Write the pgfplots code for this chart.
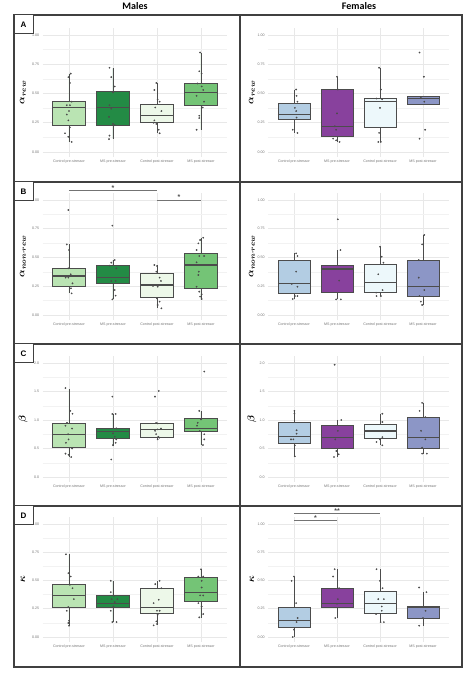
\documentclass[border=0pt]{standalone}
\usepackage{amsmath}
\usepackage{fontspec}
\setmainfont{Liberation Sans}
\newfontfamily\carlito{Carlito}
\usepackage{pgfplots}
\pgfplotsset{compat=1.18}
\usepgfplotslibrary{statistics}

\definecolor{g1}{HTML}{BAE4B3}
\definecolor{g2}{HTML}{238B45}
\definecolor{g3}{HTML}{EDF8E9}
\definecolor{g4}{HTML}{74C476}
\definecolor{p1}{HTML}{B3CDE3}
\definecolor{p2}{HTML}{88419D}
\definecolor{p3}{HTML}{EDF8FB}
\definecolor{p4}{HTML}{8C96C6}

\newcommand{\bx}[7]{\addplot[boxplot prepared={draw direction=y, draw position=#1, lower whisker=#2, lower quartile=#3, median=#4, upper quartile=#5, upper whisker=#6, box extend=0.75, whisker extend=0}, fill=#7, draw=black!70, line width=0.5pt] coordinates {};}

\pgfplotsset{
  pan/.style={
    scale only axis, anchor=south west, clip=false,
    xmin=0.4, xmax=4.6,
    xtick={1,2,3,4},
    xticklabels={Control pre-stressor,MS pre-stressor,Control post-stressor,MS post-stressor},
    axis line style={draw=none},
    major tick length=0pt, minor tick length=0pt,
    xmajorgrids, ymajorgrids, yminorgrids, minor y tick num=1,
    major grid style={draw=black!9, line width=0.5pt},
    minor grid style={draw=black!5, line width=0.3pt},
    tick label style={font=\fontsize{3.6}{4.3}\selectfont, text=black!55},
    /pgf/number format/assume math mode=true,
    yticklabel style={/pgf/number format/.cd, fixed, fixed zerofill, precision=2},
    boxplot/every median/.style={line width=1.1pt},
  },
  lc/.style={pan, width=184.8pt},
  rc/.style={pan, width=180.6pt},
  unitrow/.style={ymin=-0.04, ymax=1.06, ytick={0,0.25,0.5,0.75,1}},
  betarow/.style={ymin=-0.08, ymax=2.12, ytick={0,0.5,1,1.5,2},
    yticklabel style={/pgf/number format/.cd, fixed, fixed zerofill, precision=1}},
  pts/.style={only marks, mark=*, mark size=0.65pt, black!70},
}
\newcommand{\ylab}{\fontsize{10}{10}\selectfont\boldmath}

\begin{document}
\begin{tikzpicture}
\path[use as bounding box] (0,0) rectangle (474pt,680pt);

% ---------------- Row A ----------------
\begin{axis}[lc, unitrow, at={(42.6pt,523.32pt)}, height=128.7pt]
\bx{1}{0.086}{0.23}{0.377}{0.43}{0.67}{g1}
\bx{2}{0.114}{0.23}{0.377}{0.52}{0.714}{g2}
\bx{3}{0.163}{0.25}{0.31}{0.41}{0.59}{g3}
\bx{4}{0.19}{0.40}{0.51}{0.586}{0.85}{g4}
\addplot[pts] coordinates {(1.04,0.67) (0.985,0.64) (1.02,0.59) (1.06,0.43) (0.95,0.40) (1.02,0.40) (1.00,0.35) (0.95,0.32) (0.985,0.27) (1.02,0.21) (0.91,0.16) (0.985,0.13) (1.06,0.086)
(1.92,0.72) (1.96,0.64) (2.04,0.56) (2.00,0.51) (1.92,0.40) (1.96,0.37) (1.91,0.30) (2.00,0.24) (2.04,0.23) (1.92,0.14) (1.91,0.11)
(2.985,0.59) (2.94,0.53) (3.015,0.45) (3.06,0.43) (2.96,0.38) (3.10,0.35) (2.94,0.27) (2.924,0.25) (2.985,0.24) (3.04,0.19) (3.06,0.16)
(3.98,0.85) (3.96,0.69) (4.015,0.67) (3.92,0.586) (4.015,0.56) (4.05,0.53) (3.90,0.48) (4.07,0.43) (4.04,0.38) (3.96,0.31) (3.96,0.29) (3.90,0.19)};
\node[rotate=90, font=\ylab] at (rel axis cs:-0.106,0.5) {$\alpha_{rew}$};
\end{axis}

\begin{axis}[rc, unitrow, at={(268.2pt,523.32pt)}, height=128.7pt]
\bx{1}{0.163}{0.277}{0.323}{0.414}{0.534}{p1}
\bx{2}{0.086}{0.134}{0.22}{0.534}{0.643}{p2}
\bx{3}{0.086}{0.214}{0.43}{0.457}{0.72}{p3}
\bx{4}{0.406}{0.406}{0.457}{0.48}{0.48}{p4}
\addplot[pts] coordinates {(1.05,0.534) (1.06,0.48) (1.08,0.43) (1.02,0.377) (1.05,0.35) (1.06,0.294) (0.97,0.19) (1.08,0.163)
(2.00,0.643) (2.02,0.534) (2.00,0.33) (1.95,0.22) (1.98,0.19) (1.91,0.114) (1.98,0.10) (2.06,0.086)
(2.98,0.72) (3.02,0.534) (2.92,0.457) (3.05,0.45) (3.00,0.377) (2.98,0.163) (2.96,0.086) (3.02,0.086)
(3.92,0.85) (4.02,0.643) (3.95,0.47) (4.03,0.43) (4.05,0.19) (3.92,0.114)};
\node[rotate=90, font=\ylab] at (rel axis cs:-0.09,0.5) {$\alpha_{rew}$};
\end{axis}

% ---------------- Row B ----------------
\begin{axis}[lc, unitrow, at={(42.6pt,360.4pt)}, height=126.5pt]
\bx{1}{0.188}{0.246}{0.339}{0.406}{0.614}{g1}
\bx{2}{0.136}{0.275}{0.325}{0.429}{0.478}{g2}
\bx{3}{0.058}{0.157}{0.261}{0.359}{0.435}{g3}
\bx{4}{0.139}{0.232}{0.435}{0.536}{0.672}{g4}
\addplot[pts] coordinates {(0.985,0.913) (0.95,0.614) (1.00,0.565) (0.985,0.406) (1.04,0.354) (0.924,0.325) (0.985,0.325) (1.08,0.275) (1.045,0.232) (1.06,0.188)
(1.985,0.777) (2.04,0.478) (1.96,0.455) (1.924,0.429) (2.076,0.406) (1.96,0.296) (2.06,0.296) (2.04,0.217) (2.06,0.168) (1.985,0.136)
(2.94,0.435) (3.00,0.426) (2.985,0.377) (3.06,0.325) (3.09,0.296) (2.91,0.252) (3.015,0.246) (3.00,0.145) (3.06,0.116) (3.015,0.087) (3.10,0.058)
(4.05,0.672) (3.98,0.652) (3.94,0.623) (3.90,0.565) (3.96,0.513) (4.07,0.513) (3.90,0.458) (3.95,0.377) (3.94,0.348) (3.90,0.246) (3.96,0.203) (4.015,0.18) (3.98,0.16) (4.015,0.139)};
\draw[black!55, line width=0.6pt] (axis cs:1,1.081) -- (axis cs:3,1.081);
\node[font=\fontsize{7}{7}\selectfont\bfseries, text=black!70] at (axis cs:2,1.10) {*};
\draw[black!55, line width=0.6pt] (axis cs:3,1.0) -- (axis cs:4,1.0);
\node[font=\fontsize{7}{7}\selectfont\bfseries, text=black!70] at (axis cs:3.5,1.025) {*};
\node[rotate=90, font=\ylab] at (rel axis cs:-0.106,0.5) {$\alpha_{non\text{-}rew}$};
\end{axis}

\begin{axis}[rc, unitrow, at={(268.2pt,360.4pt)}, height=126.5pt]
\bx{1}{0.139}{0.188}{0.27}{0.472}{0.536}{p1}
\bx{2}{0.136}{0.194}{0.40}{0.429}{0.565}{p2}
\bx{3}{0.165}{0.197}{0.284}{0.44}{0.594}{p3}
\bx{4}{0.087}{0.165}{0.246}{0.478}{0.696}{p4}
\addplot[pts] coordinates {(1.05,0.536) (1.08,0.513) (1.05,0.377) (1.08,0.246) (0.95,0.27) (1.02,0.165) (1.08,0.165) (0.97,0.139)
(2.02,0.832) (2.08,0.565) (2.05,0.40) (1.95,0.40) (2.05,0.299) (1.98,0.136) (2.09,0.136)
(3.00,0.594) (3.04,0.507) (3.08,0.455) (2.96,0.354) (3.06,0.217) (2.91,0.194) (3.02,0.165) (2.92,0.165)
(4.03,0.696) (3.98,0.614) (3.90,0.478) (3.90,0.325) (4.03,0.217) (3.92,0.165) (3.95,0.116) (3.98,0.087)};
\node[rotate=90, font=\ylab] at (rel axis cs:-0.09,0.5) {$\alpha_{non\text{-}rew}$};
\end{axis}

% ---------------- Row C ----------------
\begin{axis}[lc, betarow, at={(42.6pt,198.44pt)}, height=125.4pt]
\bx{1}{0.35}{0.529}{0.753}{0.941}{1.547}{g1}
\bx{2}{0.541}{0.676}{0.806}{0.853}{1.106}{g2}
\bx{3}{0.66}{0.706}{0.835}{0.941}{0.95}{g3}
\bx{4}{0.56}{0.806}{0.853}{1.03}{1.16}{g4}
\addplot[pts] coordinates {(0.92,1.56) (1.03,1.16) (1.08,1.11) (0.955,0.95) (0.92,0.90) (1.07,0.85) (0.98,0.75) (0.99,0.66) (0.93,0.60) (1.07,0.50) (0.92,0.41) (0.99,0.39) (1.05,0.35)
(1.985,1.41) (1.985,1.106) (2.06,1.106) (2.075,0.853) (2.00,0.765) (2.04,0.706) (2.075,0.66) (2.06,0.60) (2.00,0.56) (1.96,0.306)
(2.955,1.41) (3.04,1.51) (2.98,0.95) (3.015,0.94) (3.015,0.835) (3.09,0.85) (2.955,0.81) (2.98,0.753) (3.03,0.706) (3.05,0.69) (3.015,0.66)
(4.075,1.85) (3.96,1.16) (4.00,1.01) (3.925,0.95) (3.91,0.90) (3.97,0.806) (4.075,0.75) (4.075,0.66) (4.045,0.56)};
\node[rotate=90, font=\ylab] at (rel axis cs:-0.106,0.5) {$\beta$};
\end{axis}

\begin{axis}[rc, betarow, at={(268.2pt,198.44pt)}, height=125.4pt]
\bx{1}{0.35}{0.585}{0.713}{0.953}{1.17}{p1}
\bx{2}{0.35}{0.509}{0.70}{0.906}{1.0}{p2}
\bx{3}{0.556}{0.673}{0.807}{0.924}{1.11}{p3}
\bx{4}{0.41}{0.509}{0.70}{1.053}{1.30}{p4}
\addplot[pts] coordinates {(1.01,1.16) (1.01,1.11) (1.06,0.82) (1.06,0.76) (0.93,0.66) (0.985,0.66) (1.02,0.556) (1.02,0.363)
(1.945,1.97) (2.10,1.0) (2.02,0.81) (1.96,0.66) (1.985,0.456) (2.04,0.398) (1.93,0.35)
(3.055,1.11) (3.055,0.965) (2.955,0.807) (3.015,0.807) (3.00,0.66) (3.055,0.70) (2.92,0.614) (3.055,0.556)
(3.98,1.30) (3.92,1.16) (4.055,1.05) (3.955,0.81) (4.055,0.66) (3.98,0.515) (3.98,0.41) (4.09,0.41)};
\node[rotate=90, font=\ylab] at (rel axis cs:-0.09,0.5) {$\beta$};
\end{axis}

% ---------------- Row D ----------------
\begin{axis}[lc, unitrow, at={(42.6pt,38.48pt)}, height=124.3pt]
\bx{1}{0.10}{0.265}{0.368}{0.468}{0.732}{g1}
\bx{2}{0.132}{0.265}{0.30}{0.368}{0.497}{g2}
\bx{3}{0.103}{0.206}{0.265}{0.432}{0.497}{g3}
\bx{4}{0.168}{0.315}{0.397}{0.526}{0.60}{g4}
\addplot[pts] coordinates {(0.93,0.732) (0.985,0.565) (1.04,0.535) (1.02,0.462) (1.08,0.432) (1.11,0.335) (0.985,0.265) (0.95,0.232) (1.00,0.144) (0.985,0.124) (1.00,0.10)
(1.95,0.497) (1.95,0.397) (2.02,0.365) (1.97,0.335) (2.10,0.335) (2.04,0.309) (2.01,0.27) (1.95,0.232) (1.985,0.132) (2.08,0.132)
(3.06,0.497) (2.96,0.468) (3.10,0.432) (3.04,0.33) (2.924,0.30) (3.00,0.232) (3.06,0.232) (3.015,0.197) (2.985,0.138) (3.00,0.115) (2.924,0.103)
(4.00,0.60) (3.94,0.535) (4.05,0.535) (4.015,0.497) (4.015,0.438) (3.98,0.368) (4.05,0.368) (3.94,0.30) (4.015,0.27) (4.05,0.203) (3.96,0.174)};
\node[rotate=90, font=\ylab] at (rel axis cs:-0.106,0.5) {$\kappa$};
\end{axis}

\begin{axis}[rc, unitrow, at={(268.2pt,38.48pt)}, height=124.3pt]
\bx{1}{0.0}{0.085}{0.147}{0.262}{0.535}{p1}
\bx{2}{0.168}{0.265}{0.30}{0.432}{0.60}{p2}
\bx{3}{0.132}{0.206}{0.30}{0.409}{0.60}{p3}
\bx{4}{0.10}{0.168}{0.265}{0.27}{0.397}{p4}
\addplot[pts] coordinates {(1.00,0.535) (0.945,0.497) (1.05,0.30) (1.085,0.168) (1.06,0.132) (1.00,0.065) (0.97,0.0)
(1.945,0.60) (1.91,0.535) (2.02,0.335) (2.00,0.294) (1.96,0.168) (2.05,0.432)
(2.92,0.60) (3.00,0.497) (3.06,0.432) (2.96,0.335) (3.09,0.335) (3.04,0.27) (3.04,0.232) (2.91,0.203) (3.015,0.132) (3.09,0.132)
(3.91,0.438) (4.08,0.397) (4.06,0.232) (4.00,0.168) (3.91,0.10)};
\draw[black!55, line width=0.6pt] (axis cs:1,1.094) -- (axis cs:3,1.094);
\node[font=\fontsize{7}{7}\selectfont\bfseries, text=black!70] at (axis cs:2,1.112) {**};
\draw[black!55, line width=0.6pt] (axis cs:1,1.03) -- (axis cs:2,1.03);
\node[font=\fontsize{7}{7}\selectfont\bfseries, text=black!70] at (axis cs:1.5,1.05) {*};
\node[rotate=90, font=\ylab] at (rel axis cs:-0.09,0.5) {$\kappa$};
\end{axis}

% ---------------- Frames ----------------
\draw[black!75, line width=1.2pt] (14pt,665pt) rectangle (462pt,13pt);
\draw[black!75, line width=1.2pt] (14pt,498pt) -- (462pt,498pt);
\draw[black!75, line width=1.2pt] (14pt,336pt) -- (462pt,336pt);
\draw[black!75, line width=1.2pt] (14pt,174pt) -- (462pt,174pt);
\draw[black!75, line width=1.2pt] (240pt,665pt) -- (240pt,13pt);
\foreach \t/\L in {665/A,498/B,336/C,174/D}{
  \draw[black!75, line width=1pt, fill=white] (14pt,\t pt) rectangle (33pt,\t pt-19pt);
  \node[font=\fontsize{8}{8}\selectfont\bfseries] at (23.5pt,\t pt-9.5pt) {\L};
}
\node[font=\carlito\fontsize{10}{10}\selectfont\bfseries] at (135pt,674pt) {Males};
\node[font=\carlito\fontsize{10}{10}\selectfont\bfseries] at (359pt,674pt) {Females};
\end{tikzpicture}
\end{document}
